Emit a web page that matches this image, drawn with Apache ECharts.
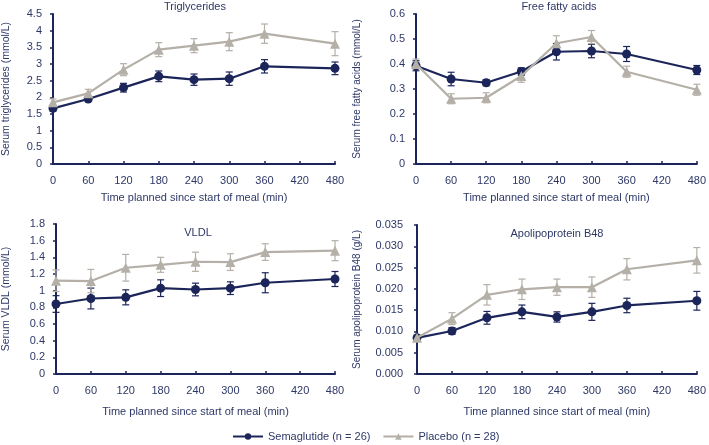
<!DOCTYPE html>
<html><head><meta charset="utf-8">
<script src="https://cdn.jsdelivr.net/npm/echarts@6/dist/echarts.min.js"></script>
<style>html,body{margin:0;padding:0;background:#fff}#c{width:709px;height:445px}</style>
</head><body><div id="c"></div>
<script>
const times = [0, 60, 120, 180, 240, 300, 360, 480];
const xTicks = [0, 60, 120, 180, 240, 300, 360, 420, 480];

const tgSema = [1.67, 1.95, 2.29, 2.63, 2.53, 2.56, 2.93, 2.87];
const tgSemaErr = [0.08, 0.06, 0.13, 0.16, 0.17, 0.2, 0.2, 0.19];
const tgPlac = [1.85, 2.12, 2.83, 3.43, 3.55, 3.67, 3.91, 3.61];
const tgPlacErr = [0.1, 0.12, 0.18, 0.21, 0.21, 0.27, 0.29, 0.36];

const ffaSema = [0.393, 0.34, 0.325, 0.37, 0.449, 0.452, 0.44, 0.376];
const ffaSemaErr = [0.02, 0.027, 0.012, 0.015, 0.033, 0.027, 0.03, 0.018];
const ffaPlac = [0.4, 0.261, 0.265, 0.352, 0.483, 0.508, 0.369, 0.297];
const ffaPlacErr = [0.02, 0.02, 0.02, 0.025, 0.03, 0.026, 0.022, 0.022];

const vldlSema = [0.84, 0.906, 0.92, 1.03, 1.014, 1.03, 1.095, 1.14];
const vldlSemaErr = [0.1, 0.125, 0.09, 0.1, 0.076, 0.076, 0.12, 0.09];
const vldlPlac = [1.12, 1.115, 1.275, 1.31, 1.347, 1.343, 1.463, 1.48];
const vldlPlacErr = [0.13, 0.14, 0.16, 0.09, 0.115, 0.1, 0.1, 0.12];

const apoSema = [0.0085, 0.0101, 0.0132, 0.0146, 0.0134, 0.0146, 0.0161, 0.0172];
const apoSemaErr = [0.0006, 0.0008, 0.0015, 0.0016, 0.0012, 0.002, 0.0017, 0.0022];
const apoPlac = [0.0085, 0.013, 0.0186, 0.0199, 0.0204, 0.0204, 0.0246, 0.0267];
const apoPlacErr = [0.0006, 0.0014, 0.0024, 0.0024, 0.0019, 0.0024, 0.0025, 0.003];

const panelTitles = ['Triglycerides', 'Free fatty acids', 'VLDL', 'Apolipoprotein B48'];
const yNames = ['Serum triglycerides (mmol/L)', 'Serum free fatty acids (mmol/L)', 'Serum VLDL (mmol/L)', 'Serum apolipoprotein B48 (g/L)'];
const xName = 'Time planned since start of meal (min)';
const yMax = [4.5, 0.6, 1.8, 0.035];
const yStep = [0.5, 0.1, 0.2, 0.005];
const yDecimals = [null, null, null, 3];
const seriesNames = ['Semaglutide (n = 26)', 'Placebo (n = 28)'];

const NAVY = '#1c2559';
const GREY = '#b4afa7';
const TXT = '#2e3867';
const FONT = '"Liberation Sans", Arial, sans-serif';

const grids = [
  {left: 49, top: 14, width: 286, height: 150},
  {left: 416, top: 14, width: 282, height: 150},
  {left: 49, top: 224, width: 286, height: 150},
  {left: 417, top: 225, width: 281, height: 149}
];
const yNameGaps = [41, 54, 44, 55];
const yNameSizes = [10.5, 10, 10.5, 10];
const yLabelMargins = [11, 11, 11, 14];
const titlePos = [[190, -4], [554, -4], [193, 222], [552, 223]];
const xNameGaps = [28, 28, 32, 32];

const panels = [
  [tgSema, tgSemaErr, tgPlac, tgPlacErr],
  [ffaSema, ffaSemaErr, ffaPlac, ffaPlacErr],
  [vldlSema, vldlSemaErr, vldlPlac, vldlPlacErr],
  [apoSema, apoSemaErr, apoPlac, apoPlacErr]
];

function errSeries(name, gi, vals, errs, color) {
  return {
    type: 'custom', name: name, xAxisIndex: gi, yAxisIndex: gi, z: 3,
    data: times.map((t, i) => [t, vals[i] - errs[i], vals[i] + errs[i]]),
    renderItem: function (params, api) {
      const lo = api.coord([api.value(0), api.value(1)]);
      const hi = api.coord([api.value(0), api.value(2)]);
      const w = 3.5;
      const st = {stroke: color, lineWidth: 1.2};
      return {type: 'group', children: [
        {type: 'line', shape: {x1: lo[0], y1: lo[1], x2: hi[0], y2: hi[1]}, style: st},
        {type: 'line', shape: {x1: lo[0] - w, y1: lo[1], x2: lo[0] + w, y2: lo[1]}, style: st},
        {type: 'line', shape: {x1: hi[0] - w, y1: hi[1], x2: hi[0] + w, y2: hi[1]}, style: st}
      ]};
    },
    silent: true
  };
}

const xAxes = [], yAxes = [], series = [], titles = [];
panels.forEach((p, gi) => {
  xAxes.push({
    type: 'value', gridIndex: gi, min: 0, max: 480, interval: 60,
    name: xName, nameLocation: 'middle', nameGap: xNameGaps[gi],
    nameTextStyle: {color: TXT, fontSize: 11, fontFamily: FONT},
    axisLine: {show: true, lineStyle: {color: NAVY, width: 2}},
    axisTick: {show: true, inside: true, length: 3, lineStyle: {color: NAVY, width: 1.5}},
    axisLabel: {color: TXT, fontSize: 11, fontFamily: FONT, margin: 11,
      formatter: v => xTicks.indexOf(v) >= 0 ? String(v) : ''},
    splitLine: {show: false}
  });
  yAxes.push({
    type: 'value', gridIndex: gi, min: 0, max: yMax[gi], interval: yStep[gi],
    name: yNames[gi], nameLocation: 'middle', nameGap: yNameGaps[gi], nameRotate: 90,
    nameTextStyle: {color: TXT, fontSize: yNameSizes[gi], fontFamily: FONT},
    axisLine: {show: true, lineStyle: {color: NAVY, width: 2}},
    axisTick: {show: true, inside: false, length: 3, lineStyle: {color: NAVY, width: 1.5}},
    axisLabel: {color: TXT, fontSize: 11, fontFamily: FONT, margin: yLabelMargins[gi],
      formatter: v => yDecimals[gi] ? v.toFixed(yDecimals[gi]) : String(Math.round(v * 1000) / 1000)},
    splitLine: {show: false}
  });
  titles.push({
    text: panelTitles[gi], left: titlePos[gi][0], top: titlePos[gi][1], textAlign: 'center',
    textStyle: {color: TXT, fontSize: 11, fontWeight: 'normal', fontFamily: FONT}
  });
  series.push(errSeries('errS' + gi, gi, p[0], p[1], NAVY));
  series.push({
    type: 'line', name: seriesNames[0], xAxisIndex: gi, yAxisIndex: gi, z: 4,
    data: times.map((t, i) => [t, p[0][i]]),
    symbol: 'circle', symbolSize: 9,
    lineStyle: {color: NAVY, width: 2.2}, itemStyle: {color: NAVY},
    silent: true, animation: false
  });
  series.push(errSeries('errP' + gi, gi, p[2], p[3], GREY));
  series.push({
    type: 'line', name: seriesNames[1], xAxisIndex: gi, yAxisIndex: gi, z: 5,
    data: times.map((t, i) => [t, p[2][i]]),
    symbol: 'triangle', symbolSize: 10,
    lineStyle: {color: GREY, width: 2.2}, itemStyle: {color: GREY},
    silent: true, animation: false
  });
});

const chart = echarts.init(document.getElementById('c'), null, {renderer: 'canvas'});
chart.setOption({
  animation: false,
  backgroundColor: '#fff',
  title: titles,
  grid: grids,
  xAxis: xAxes,
  yAxis: yAxes,
  legend: {
    data: seriesNames, left: 227, top: 426, itemWidth: 30, itemHeight: 8, itemGap: 12,
    textStyle: {color: TXT, fontSize: 11, fontFamily: FONT}
  },
  series: series
});
</script></body></html>
